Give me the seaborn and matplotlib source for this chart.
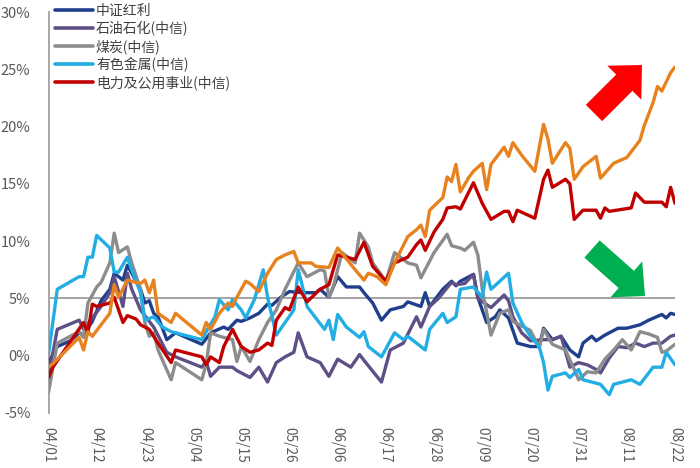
import matplotlib
matplotlib.use("Agg")
import matplotlib.pyplot as plt
import matplotlib.dates as mdates
from matplotlib.patches import FancyArrow
from matplotlib.transforms import IdentityTransform
from matplotlib.ticker import FuncFormatter
import numpy as np
import pandas as pd
import seaborn as sns

# ---------------- data (days since 04/01, cumulative return %) ----------------
start_date = "2024-04-01"
end_date = "2024-08-22"
tick_step_days = 11

names = ["中证红利", "石油石化(中信)", "煤炭(中信)", "有色金属(中信)", "电力及公用事业(中信)", "其他"]
colors = ["#1F3F8C", "#5E4F86", "#8C8C8C", "#22AEE4", "#C00000", "#E8821E"]

dividend_days = [0,2,5,7,8,10,12,14,15,17,18,19,21,22,23,24,25,27,29,35,37,40,41,43,44,46,48,50,51,53,55,58,61,62,64,66,68,71,72,74,76,78,81,82,85,86,87,88,90,92,93,94,96,97,98,100,102,103,105,107,110,112,113,115,117,119,121,122,124,125,127,130,132,135,137,140,141,142,143]
dividend_vals = [-0.6,0.8,1.3,2.0,1.8,3.0,4.8,5.8,7.2,6.6,7.9,7.2,5.8,4.6,4.8,3.7,3.4,1.4,2.0,1.0,2.0,2.5,2.3,3.1,3.0,3.3,3.7,4.5,4.4,5.1,5.6,5.5,5.5,5.8,5.1,6.9,6.0,6.0,5.5,4.6,3.1,4.0,4.3,4.7,4.3,5.5,4.3,4.8,5.8,6.5,6.1,6.5,6.9,7.1,5.1,2.9,3.4,4.0,3.3,1.1,0.8,0.8,2.4,1.4,1.7,0.5,-0.1,1.1,1.7,1.3,1.8,2.4,2.4,2.7,3.1,3.6,3.3,3.7,3.6]

oil_days = [0,2,7,8,12,14,15,17,18,19,21,24,27,29,35,36,37,39,42,43,46,48,50,52,54,56,57,59,62,64,66,69,71,72,76,78,81,84,85,87,89,92,93,95,97,98,101,104,105,106,108,110,113,115,117,119,121,123,125,126,128,130,132,134,136,138,140,142,143]
oil_vals = [-1.8,2.3,3.1,2.3,4.3,5.5,6.9,4.3,7.2,5.8,4.0,2.5,0.3,-0.1,-1.0,-0.5,-1.8,-1.0,-1.0,-1.3,-1.9,-1.0,-2.3,-0.6,-0.1,0.3,2.0,-0.1,-0.6,-1.8,-0.3,-1.0,0.1,-0.4,-2.3,0.5,1.1,3.4,2.5,4.3,5.0,6.4,6.2,6.3,7.1,5.0,4.2,5.3,4.8,3.4,2.0,1.3,1.4,1.4,1.7,-1.0,-0.6,-0.8,-1.2,-1.5,-0.2,0.8,0.7,1.1,0.8,1.1,1.1,1.7,1.8]

coal_days = [0,2,7,8,9,11,12,14,15,16,18,19,21,22,23,24,25,28,29,35,36,37,39,42,43,44,46,48,50,52,54,57,59,62,63,64,65,67,70,71,73,74,77,79,82,84,85,88,91,92,94,95,97,98,99,101,103,105,106,110,112,113,115,118,120,121,123,125,127,129,131,133,135,137,139,140,141,143]
coal_vals = [-3.2,1.1,2.1,1.6,4.6,6.0,6.4,8.1,10.7,9.0,9.5,8.1,5.8,2.9,1.7,2.0,0.5,-2.1,-0.6,-2.1,-0.7,2.0,1.7,1.4,-0.5,0.8,-0.5,1.4,2.9,4.0,5.8,8.1,6.9,7.5,7.4,5.1,6.0,9.0,8.1,10.7,9.5,8.1,6.5,9.0,8.1,7.9,6.8,9.0,10.6,9.6,9.4,9.2,9.9,8.8,5.8,1.8,3.7,4.0,3.0,2.2,0.7,2.3,1.0,0.5,-1.2,-2.1,-1.4,-1.5,-0.3,0.5,1.4,0.5,2.1,1.9,1.6,0.3,0.4,1.0]

metal_days = [0,2,7,8,9,10,11,14,15,16,18,19,21,22,24,26,28,35,36,38,39,41,42,44,45,47,49,50,52,54,56,57,58,59,63,64,65,66,68,71,72,73,76,79,81,82,86,87,90,91,93,94,97,99,100,101,105,106,108,110,112,113,114,115,118,119,121,122,126,128,129,133,135,138,140,141,143]
metal_vals = [0.1,5.8,6.9,6.9,8.6,8.6,10.5,9.4,7.3,7.3,8.6,7.5,5.5,3.1,3.4,2.5,2.1,1.4,2.1,3.4,4.9,4.0,4.9,4.0,3.3,4.9,7.5,5.1,1.8,2.9,4.0,7.5,6.0,4.3,2.3,3.1,1.4,3.6,2.5,1.6,2.1,0.8,-0.1,2.0,1.4,1.7,0.5,2.3,3.7,2.9,3.4,5.8,6.0,5.1,7.3,5.8,7.2,4.6,2.9,1.7,0.8,-0.6,-3.0,-1.8,-1.5,-1.9,-1.2,-2.1,-2.5,-3.4,-2.5,-2.1,-2.5,-1.0,-1.0,0.3,-0.8]

power_days = [0,1,8,9,10,11,14,15,17,18,20,21,23,25,28,29,35,36,37,39,40,42,44,46,48,50,51,52,54,55,57,59,62,64,66,70,72,74,77,79,82,84,85,86,88,90,91,93,94,97,99,101,104,105,106,107,111,113,114,115,118,119,120,122,125,126,127,128,133,134,136,140,141,142,143]
power_vals = [-1.9,-1.0,2.9,2.0,4.5,4.3,4.6,5.1,2.9,3.5,3.2,2.7,2.3,1.1,-0.6,0.5,-0.1,-0.8,-0.1,-0.6,0.8,2.3,0.8,0.3,0.5,1.1,0.9,3.1,4.2,4.0,6.0,4.7,5.8,6.2,8.8,8.4,9.9,7.8,6.5,8.1,8.6,9.7,10.1,9.2,10.8,11.9,12.9,13.0,12.8,15.1,13.3,11.9,12.6,12.6,11.7,12.7,12.0,15.4,16.2,14.7,15.4,15.0,11.9,12.7,12.7,12.0,12.9,12.6,12.9,14.2,13.4,13.4,13.0,14.7,13.3]

other_days = [0,1,7,8,9,10,14,15,16,18,21,22,23,24,25,28,29,35,36,37,39,41,42,43,45,46,48,50,52,54,56,57,60,61,64,66,70,72,73,75,77,79,82,84,85,86,87,90,91,92,93,94,96,97,99,100,101,104,105,106,108,111,113,114,115,118,119,120,122,125,126,129,132,135,136,138,139,140,142,143]
other_vals = [-1.0,-0.7,1.6,0.5,2.1,1.7,3.7,6.2,5.1,6.6,6.3,6.6,5.5,6.6,3.7,2.9,3.7,1.8,2.9,2.3,3.7,4.6,4.3,5.1,6.5,6.3,5.6,7.2,8.4,8.8,9.1,8.1,8.1,7.8,7.7,9.4,7.5,6.6,7.2,6.9,6.2,8.1,10.4,11.0,11.4,10.4,12.7,13.8,15.6,15.2,16.7,14.3,15.6,16.1,16.8,14.5,16.7,18.2,17.4,18.6,17.5,16.1,20.2,18.9,16.8,18.6,18.1,15.4,16.5,17.4,15.5,16.8,17.3,18.8,20.1,22.1,23.5,23.1,24.7,25.2]

y_ticks = [-5, 0, 5, 10, 15, 20, 25, 30]
ref_level = 5

# ---------------- build long table ----------------
series_days = [dividend_days, oil_days, coal_days, metal_days, power_days, other_days]
series_vals = [dividend_vals, oil_vals, coal_vals, metal_vals, power_vals, other_vals]
start = pd.Timestamp(start_date)
end = pd.Timestamp(end_date)
frames = []
for n, d, v in zip(names, series_days, series_vals):
    frames.append(pd.DataFrame({
        "date": start + pd.to_timedelta(d, unit="D"),
        "value": v,
        "series": n,
    }))
df = pd.concat(frames, ignore_index=True)

# ---------------- plot ----------------
sns.set_theme(style="white")
plt.rcParams["font.family"] = ["Noto Sans CJK SC", "DejaVu Sans"]

W, H = 700, 468
fig = plt.figure(figsize=(W / 100, H / 100), dpi=100)
ax = fig.add_axes([48.5 / W, 1 - 413 / H, (675 - 48.5) / W, (413 - 12) / H])

ax.axhline(ref_level, color="#8C8C8C", lw=1.1, zorder=1)

sns.lineplot(data=df, x="date", y="value", hue="series", hue_order=names,
             palette=dict(zip(names, colors)), linewidth=2.4,
             estimator=None, sort=False, ax=ax, legend=True, zorder=3)

ax.set_xlim(start, end)
ax.set_ylim(min(y_ticks), max(y_ticks))
ax.set_yticks(y_ticks)
ax.yaxis.set_major_formatter(FuncFormatter(lambda v, p: f"{v:.0f}%"))
ax.set_xticks(pd.date_range(start, end, freq=f"{tick_step_days}D"))
ax.xaxis.set_major_formatter(mdates.DateFormatter("%m/%d"))
ax.set_xlabel("")
ax.set_ylabel("")

for s in ["top", "right", "bottom"]:
    ax.spines[s].set_visible(False)
ax.spines["left"].set_color("#A0A0A0")
ax.spines["left"].set_linewidth(1.3)

ax.tick_params(axis="y", length=0, pad=13, labelsize=10.5, labelcolor="#595959")
ax.tick_params(axis="x", length=0, pad=10, labelsize=9.8, labelcolor="#595959")
for lab in ax.get_xticklabels():
    lab.set_rotation(-90)
    lab.set_va("top")
    lab.set_ha("center")

handles, labels = ax.get_legend_handles_labels()
keep = [(h, l) for h, l in zip(handles, labels) if l in names[:5]]
leg = ax.legend([h for h, _ in keep], [l for _, l in keep],
                loc="upper left", bbox_to_anchor=(55 / W, 1 - 4 / H),
                bbox_transform=fig.transFigure, frameon=False,
                fontsize=10, handlelength=2.7, handletextpad=0.25,
                labelspacing=0.22, borderpad=0, borderaxespad=0)
for t in leg.get_texts():
    t.set_color("#404040")
for h in leg.get_lines():
    h.set_linewidth(2.6)

# arrows (pixel coordinates, origin bottom-left)
def px_arrow(x0, y0, x1, y1, color):
    a = FancyArrow(x0, H - y0, x1 - x0, -(y1 - y0), width=23, head_width=48,
                   head_length=25, length_includes_head=True,
                   color=color, ec="none", transform=IdentityTransform())
    fig.add_artist(a)

px_arrow(594, 113, 642, 65, "#FF0000")
px_arrow(592, 249, 645, 296, "#00B050")

fig.savefig("out.png", dpi=100)
